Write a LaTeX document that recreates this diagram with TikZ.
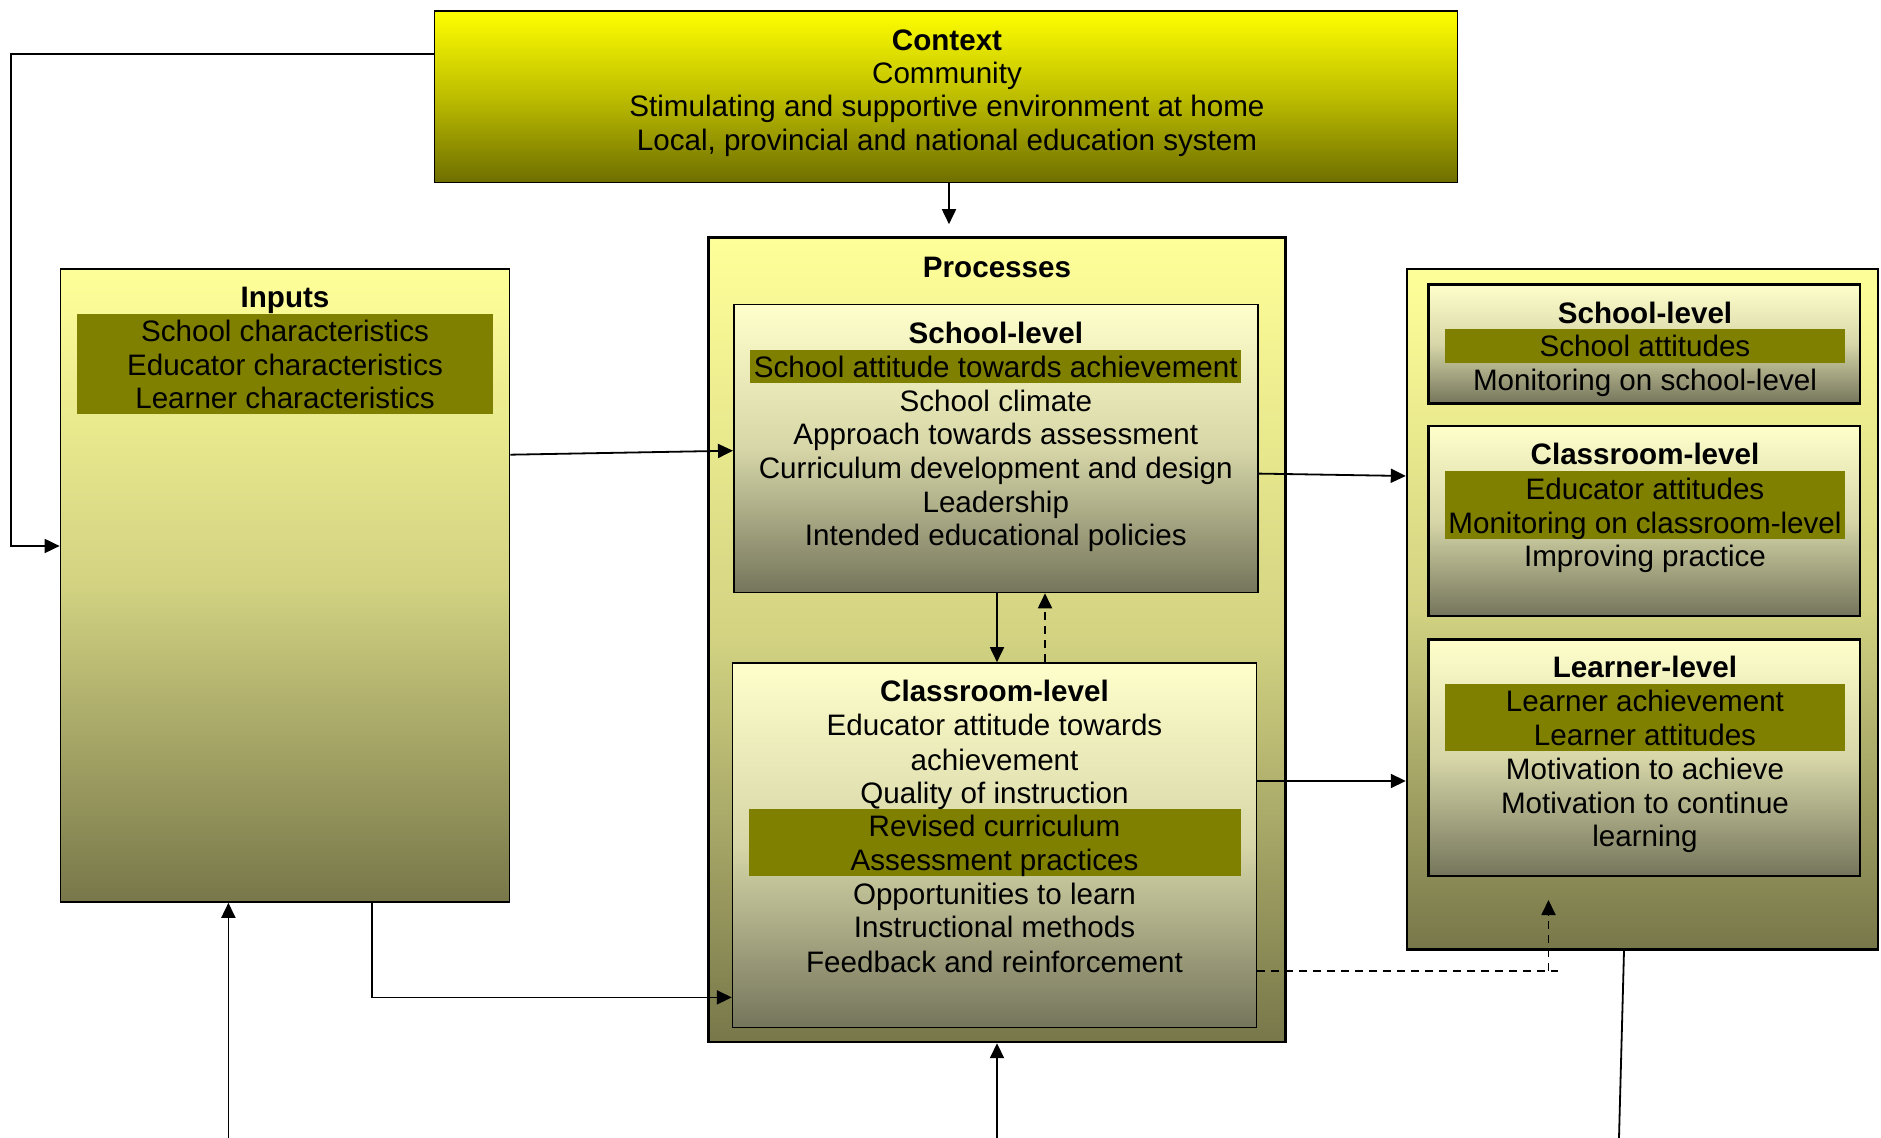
\documentclass[tikz,border=0pt]{standalone}
\usepackage{fontspec}
\setmainfont{Liberation Sans}
\usetikzlibrary{arrows.meta}
\definecolor{bandc}{HTML}{808000}
\definecolor{ctxtop}{HTML}{FFFF00}
\definecolor{ctxmid}{HTML}{BDBD00}
\definecolor{ctxbot}{HTML}{6E6E00}
\definecolor{outtop}{HTML}{FFFF99}
\definecolor{outmid}{HTML}{D2D282}
\definecolor{outbot}{HTML}{77774A}
\definecolor{intop}{HTML}{FFFFCC}
\definecolor{inmid}{HTML}{D6D6A8}
\definecolor{inbot}{HTML}{75755C}
\tikzset{
  box/.style={rectangle, draw=black, line width=0.8pt, inner sep=0pt},
  ctxbox/.style={box, top color=ctxtop, bottom color=ctxbot, middle color=ctxmid},
  outerbox/.style={box, top color=outtop, bottom color=outbot, middle color=outmid},
  innerbox/.style={box, top color=intop, bottom color=inbot, middle color=inmid},
  band/.style={rectangle, fill=bandc, draw=none, inner sep=0pt},
  txt/.style={inner sep=0pt, anchor=base, font=\fontsize{14.8pt}{17pt}\selectfont},
  ttl/.style={txt, font=\fontsize{14.8pt}{17pt}\selectfont\bfseries},
  arr/.style={line width=0.9pt, -{Triangle[length=7.5pt,width=7pt]}},
  plain/.style={line width=0.9pt},
  dsh/.style={line width=0.9pt, dash pattern=on 4pt off 3pt}
}
\begin{document}
\begin{tikzpicture}[x=0.5pt,y=-0.5pt]
\useasboundingbox (0,0) rectangle (1881,1138);

% boxes
\node[ctxbox, minimum width=511.35pt, minimum height=85.8pt] (ctx) at (946,96.7) {};
\node[outerbox, minimum width=224.55pt, minimum height=316.5pt] (inputs) at (285,585.5) {};
\node[outerbox, line width=1.2pt, minimum width=288.35pt, minimum height=402.3pt] (proc) at (997,639.7) {};
\node[innerbox, minimum width=262pt, minimum height=143.95pt] (psch) at (995.8,448.55) {};
\node[innerbox, minimum width=261.95pt, minimum height=182.2pt] (pcls) at (994.55,845.2) {};
\node[outerbox, line width=1.2pt, minimum width=235.5pt, minimum height=340.3pt] (outc) at (1642.5,609.3) {};
\node[innerbox, line width=1.2pt, minimum width=215.7pt, minimum height=59.45pt] (osch) at (1644.3,344.05) {};
\node[innerbox, line width=1.2pt, minimum width=215.7pt, minimum height=95pt] (ocls) at (1644.3,521) {};
\node[innerbox, line width=1.2pt, minimum width=215.7pt, minimum height=118.25pt] (olrn) at (1644.3,757.75) {};

% bands
\node[band, minimum width=208.35pt, minimum height=50.2pt] (inband) at (285.05,364.2) {};
\node[band, minimum width=245.5pt, minimum height=16.55pt] (psband) at (995.5,366.95) {};
\node[band, minimum width=246.1pt, minimum height=33.7pt] (pcband) at (994.9,842.7) {};
\node[band, minimum width=199.95pt, minimum height=16.9pt] (osband) at (1645.35,345.9) {};
\node[band, minimum width=199.95pt, minimum height=33.85pt] (ocband) at (1645.35,504.85) {};
\node[band, minimum width=199.95pt, minimum height=33.5pt] (olband) at (1645.35,718) {};

% context text
\node[ttl] (c0) at (947,51) {Context};
\node[txt] (c1) at (947,84) {Community};
\node[txt] (c2) at (947,117) {Stimulating and supportive environment at home};
\node[txt] (c3) at (947,151) {Local, provincial and national education system};

% inputs text
\node[ttl] (i0) at (285,308) {Inputs};
\node[txt] (i1) at (285,342) {School characteristics};
\node[txt] (i2) at (285,375.6) {Educator characteristics};
\node[txt] (i3) at (285,409) {Learner characteristics};

% processes
\node[ttl] (p0) at (997,278) {Processes};
\node[ttl] (s0) at (995.8,343.6) {School-level};
\node[txt] (s1) at (995.8,378) {School attitude towards achievement};
\node[txt] (s2) at (995.8,412) {School climate};
\node[txt] (s3) at (995.8,445) {Approach towards assessment};
\node[txt] (s4) at (995.8,479) {Curriculum development and design};
\node[txt] (s5) at (995.8,513) {Leadership};
\node[txt] (s6) at (995.8,546) {Intended educational policies};

\node[ttl] (k0) at (994.5,701.6) {Classroom-level};
\node[txt] (k1) at (994.5,736) {Educator attitude towards};
\node[txt] (k2) at (994.5,770.4) {achievement};
\node[txt] (k3) at (994.5,803.7) {Quality of instruction};
\node[txt] (k4) at (994.5,837) {Revised curriculum};
\node[txt] (k5) at (994.5,870.7) {Assessment practices};
\node[txt] (k6) at (994.5,905) {Opportunities to learn};
\node[txt] (k7) at (994.5,937.7) {Instructional methods};
\node[txt] (k8) at (994.5,972) {Feedback and reinforcement};

% outcomes
\node[ttl] (o0) at (1645,323.6) {School-level};
\node[txt] (o1) at (1645,356.3) {School attitudes};
\node[txt] (o2) at (1645,391) {Monitoring on school-level};

\node[ttl] (q0) at (1645,464.6) {Classroom-level};
\node[txt] (q1) at (1645,500) {Educator attitudes};
\node[txt] (q2) at (1645,533.4) {Monitoring on classroom-level};
\node[txt] (q3) at (1645,567) {Improving practice};

\node[ttl] (l0) at (1645,678) {Learner-level};
\node[txt] (l1) at (1645,712) {Learner achievement};
\node[txt] (l2) at (1645,745.8) {Learner attitudes};
\node[txt] (l3) at (1645,779.5) {Motivation to achieve};
\node[txt] (l4) at (1645,814) {Motivation to continue};
\node[txt] (l5) at (1645,847) {learning};

% free coordinates
\coordinate (fbk) at (10.8,300);
\coordinate (b1) at (228.4,1138);
\coordinate (b2) at (997,1138);
\coordinate (b3) at (1619,1138);
\coordinate (dcorner) at (1557.5,971);
\coordinate (dtip) at (1548.5,900);

% connectors
\draw[arr] (ctx.west |- 0,53.8) -| (fbk) |- (inputs.west |- 0,546);
\draw[arr, shorten >=6pt] (ctx.south -| 949,0) -- (proc.north -| 949,0);
\draw[arr] (inputs.east |- 0,454.7) -- (psch.west |- 0,450.7);
\draw[arr] (inputs.south -| 372.3,0) |- (pcls.west |- 0,997.4);
\draw[arr] (b1) -- (inputs.south -| b1);
\draw[arr] (b2) -- (proc.south -| b2);
\draw[plain] (b3) -- (outc.south -| 1624,0);
\draw[arr] (psch.south -| 997,0) -- (pcls.north -| 997,0);
\draw[arr, dsh] (pcls.north -| 1045,0) -- (psch.south -| 1045,0);
\draw[arr] (psch.east |- 0,473.6) -- (outc.west |- 0,476);
\draw[arr] (pcls.east |- 0,781) -- (outc.west |- 0,781);
\draw[dsh] (pcls.east |- 0,971) -- (dcorner);
\draw[arr, dsh] (dtip |- dcorner) -- (dtip);
\end{tikzpicture}
\end{document}
